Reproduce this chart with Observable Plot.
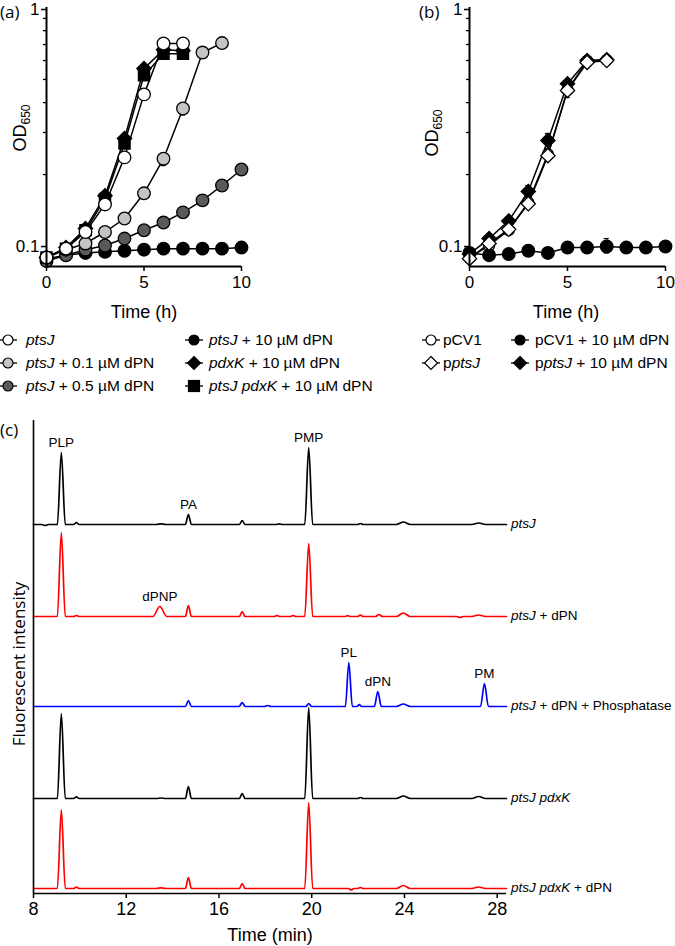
<!DOCTYPE html>
<html><head><meta charset="utf-8">
<script src="https://cdn.jsdelivr.net/npm/d3@7"></script>
<script src="https://cdn.jsdelivr.net/npm/@observablehq/plot@0.6"></script>
<style>
body{margin:0;background:#fff;}
#fig{position:relative;width:675px;height:946px;overflow:hidden;background:#fff;font-family:"Liberation Sans",Arial,sans-serif;color:#000;}
#fig svg{position:absolute;overflow:visible;background:transparent;}
.t{position:absolute;white-space:nowrap;line-height:1;}
.os{font-family:"Open Sans",sans-serif;}
</style></head><body><div id="fig"></div>
<script>
// ---------- Panel (a) data (OD650 vs time, h) ----------
const hours = [0,1,2,3,4,5,6,7,8,9,10];
const a_ptsJ        = [0.090,0.098,0.115,0.150,0.236,0.433,0.707,0.707];
const a_ptsJ_01     = [0.090,0.097,0.103,0.115,0.131,0.167,0.233,0.378,0.648,0.710];
const a_ptsJ_05     = [0.087,0.092,0.097,0.101,0.108,0.117,0.126,0.139,0.156,0.180,0.210];
const a_ptsJ_10     = [0.089,0.092,0.094,0.095,0.096,0.097,0.098,0.098,0.098,0.098,0.099];
const a_pdxK_10     = [0.090,0.099,0.119,0.163,0.283,0.555,0.666,0.660];
const a_ptsJpdxK_10 = [0.090,0.098,0.117,0.158,0.270,0.520,0.640,0.640];
const a_err = [ // t, low, high
  [7,0.665,0.745],[6,0.218,0.245],[7,0.355,0.395]
];
// ---------- Panel (b) data ----------
const b_pCV1     = [0.090,0.101,0.117,0.153,0.243,0.452,0.598,0.603];
const b_pCV1_10  = [0.094,0.092,0.093,0.096,0.094,0.099,0.099,0.100,0.099,0.099,0.100];
const b_pptsJ    = [0.089,0.103,0.118,0.151,0.240,0.450,0.589,0.600];
const b_pptsJ_10 = [0.093,0.108,0.128,0.170,0.278,0.480,0.600,0.605];
const b_err = [
  [3,0.160,0.180],[4,0.257,0.297],[5,0.420,0.480],[6,0.094,0.100],[7,0.094,0.108]
];
const yTickTop = [1];
const yTickBottom = [0.1];
const yTicksMinor = [0.2,0.3,0.4,0.5,0.6,0.7,0.8,0.9];
const xTicksH = [0,5,10];

// ---------- Panel (c) data: chromatogram peaks [time(min), height, half-width, label] ----------
const c_names  = ["<i>ptsJ</i>","<i>ptsJ</i> + dPN","<i>ptsJ</i> + dPN + Phosphatase","<i>ptsJ pdxK</i>","<i>ptsJ pdxK</i> + dPN"];
const c_colors = ["#000000","#ff0000","#0000ff","#000000","#ff0000"];
const c_offset = [369, 277, 187, 95, 5];
const c_peaks = [
  [[8.5,-1,0.15],[9.2,72,0.17,"PLP"],[9.85,2,0.12],[13.5,0.6,0.2],[14.68,10,0.13,"PA"],[17.0,4,0.12],[18.6,0.6,0.15],[19.87,77,0.17,"PMP"],[22.1,1,0.12],[23.95,2.5,0.3],[27.2,1.5,0.3]],
  [[9.2,84,0.17],[9.85,1,0.12],[13.45,10,0.3,"dPNP"],[14.68,11,0.13],[17.0,5,0.12],[18.5,1,0.12],[19.2,1,0.12],[19.87,73,0.17],[21.55,0.8,0.1],[22.1,1.5,0.12],[22.9,2,0.15],[23.95,3.5,0.3],[26.4,-1,0.15],[27.2,1.5,0.3]],
  [[14.68,6,0.13],[17.0,4,0.13],[18.1,1,0.15],[19.87,3,0.12],[21.6,44,0.15,"PL"],[22.05,2,0.1],[22.85,15,0.15,"dPN"],[23.95,2.5,0.3],[27.45,23,0.17,"PM"]],
  [[9.2,85,0.17],[9.85,1.7,0.12],[13.5,0.5,0.2],[14.68,12,0.13],[17.0,5,0.12],[19.87,91,0.17],[22.1,1,0.12],[23.95,2.5,0.3],[27.2,2,0.3]],
  [[9.2,79,0.17],[9.85,1.5,0.12],[13.5,0.6,0.2],[14.68,11,0.13],[17.0,5,0.12],[19.87,86,0.17],[21.7,-1.5,0.12],[22.1,1,0.12],[23.95,3,0.3],[27.2,1.5,0.3]]
];
const c_xTicks = [8,12,16,20,24,28];
const c_tStart = 8, c_tEnd = 28.4;

// ---------- helpers ----------
const fig = document.getElementById("fig");
function put(el, left, top){ el.style.left = left+"px"; el.style.top = top+"px"; fig.appendChild(el); return el; }
function text(html, left, top, size, cls="", extra=""){
  const d = document.createElement("div");
  d.className = "t " + cls; d.innerHTML = html;
  d.style.fontSize = size+"px";
  if (extra) d.style.cssText += extra;
  return put(d, left, top);
}
const Y_MIN = 0.0825;
function growthPlot(series, errs, {width, marginLeft, marginRight}){
  const marks = [];
  for (const s of series){
    const rows = s.vals.map((v,i)=>({t:hours[i], v}));
    marks.push(Plot.line(rows,{x:"t",y:"v",stroke:"#000",strokeWidth:1.5}));
  }
  const e = errs.map(([t,lo,hi])=>({t,lo,hi}));
  marks.push(Plot.ruleX(e,{x:"t",y1:"lo",y2:"hi",stroke:"#000",strokeWidth:1.2}));
  marks.push(Plot.ruleY(e,{y:"lo",x1:d=>d.t-0.13,x2:d=>d.t+0.13,stroke:"#000",strokeWidth:1.2}));
  marks.push(Plot.ruleY(e,{y:"hi",x1:d=>d.t-0.13,x2:d=>d.t+0.13,stroke:"#000",strokeWidth:1.2}));
  for (const s of series){
    const rows = s.vals.map((v,i)=>({t:hours[i], v}));
    marks.push(Plot.dot(rows,{x:"t",y:"v",symbol:s.sym,r:s.r||6.3,fill:s.fill,stroke:"#000",strokeWidth:1.3}));
  }
  marks.push(Plot.ruleX([0],{stroke:"#000",strokeWidth:2}));
  marks.push(Plot.ruleY([Y_MIN],{x1:0,x2:10,stroke:"#000",strokeWidth:2}));
  marks.push(Plot.axisY(yTickTop,{tickSize:5,tickPadding:2,tickFormat:()=>"1",dy:2,fontSize:17,strokeWidth:1.5,label:null}));
  marks.push(Plot.axisY(yTickBottom,{tickSize:5,tickPadding:2,tickFormat:()=>"0.1",fontSize:17,strokeWidth:1.5,label:null}));
  marks.push(Plot.axisY(yTicksMinor,{tickSize:3,tickFormat:()=> "",strokeWidth:1.3,label:null}));
  marks.push(Plot.axisX(xTicksH,{tickSize:5,tickPadding:4,fontSize:17,strokeWidth:1.5,label:null}));
  return Plot.plot({
    width, height:300, marginTop:7, marginBottom:34, marginLeft, marginRight,
    x:{domain:[0,10]}, y:{type:"log", domain:[Y_MIN,1]},
    style:{fontFamily:"Liberation Sans, Arial, sans-serif", fontSize:"17px", color:"#000", background:"transparent"},
    marks
  });
}

// ---------- Panel (a) ----------
const serA = [
  {vals:a_ptsJ_10, fill:"#000000", sym:"circle"},
  {vals:a_ptsJ_05, fill:"#5a5a5a", sym:"circle"},
  {vals:a_ptsJ_01, fill:"#c4c4c4", sym:"circle"},
  {vals:a_pdxK_10, fill:"#000000", sym:"diamond2", r:6.4},
  {vals:a_ptsJpdxK_10, fill:"#000000", sym:"square", r:6.3},
  {vals:a_ptsJ, fill:"#ffffff", sym:"circle"}
];
put(growthPlot(serA, a_err, {width:255, marginLeft:46, marginRight:14}), 0, 0);

// ---------- Panel (b) ----------
const serB = [
  {vals:b_pCV1, fill:"#ffffff", sym:"circle", r:5.5},
  {vals:b_pCV1_10, fill:"#000000", sym:"circle"},
  {vals:b_pptsJ_10, fill:"#000000", sym:"diamond2", r:6.4},
  {vals:b_pptsJ, fill:"#ffffff", sym:"diamond2", r:6.4}
];
put(growthPlot(serB, b_err, {width:292, marginLeft:89, marginRight:7}), 380, 0);

// labels (a), (b)
text("(a)", 0, 3, 17, "os");
text("(b)", 419, 3, 17, "os");
for (const [cx,cy] of [[21,128],[433,133]]){
  const d = text("OD<sub style='font-size:12px;vertical-align:-4px'>650</sub>", 0, 0, 18, "",
    "transform:translate(-50%,-50%) rotate(-90deg);");
  d.style.left = cx+"px"; d.style.top = cy+"px";
}
text("Time (h)", 144, 312, 18, "", "transform:translate(-50%,-50%);");
text("Time (h)", 566, 312, 18, "", "transform:translate(-50%,-50%);");

// ---------- legends ----------
function sym(kind, fill){
  let s = `<svg width="20" height="14" style="position:static;overflow:visible"><line x1="1" x2="19" y1="7" y2="7" stroke="#000" stroke-width="1.3"/>`;
  if (kind==="circle") s += `<circle cx="10" cy="7" r="5" fill="${fill}" stroke="#000" stroke-width="1.2"/>`;
  if (kind==="diamond") s += `<polygon points="10,0.5 16.5,7 10,13.5 3.5,7" fill="${fill}" stroke="#000" stroke-width="1.2"/>`;
  if (kind==="square") s += `<rect x="4.5" y="1.5" width="11" height="11" fill="${fill}" stroke="#000" stroke-width="1.2"/>`;
  return s + `</svg>`;
}
const legRows = [340, 363, 386];
const legend = [
  [8,26,0,"circle","#fff","<i>ptsJ</i>"],
  [8,26,1,"circle","#c4c4c4","<i>ptsJ</i> + 0.1 µM dPN"],
  [8,26,2,"circle","#5a5a5a","<i>ptsJ</i> + 0.5 µM dPN"],
  [194,209,0,"circle","#000","<i>ptsJ</i> + 10 µM dPN"],
  [194,209,1,"diamond","#000","<i>pdxK</i> + 10 µM dPN"],
  [194,209,2,"square","#000","<i>ptsJ pdxK</i> + 10 µM dPN"],
  [431,443,0,"circle","#fff","pCV1"],
  [431,443,1,"diamond","#fff","p<i>ptsJ</i>"],
  [520,535,0,"circle","#000","pCV1 + 10 µM dPN"],
  [520,535,1,"diamond","#000","p<i>ptsJ</i> + 10 µM dPN"]
];
for (const [sx,tx,row,kind,fill,label] of legend){
  const y = legRows[row];
  const s = document.createElement("div"); s.className="t"; s.innerHTML = sym(kind,fill);
  s.style.cssText += "transform:translate(-50%,-50%);width:20px;height:14px;";
  put(s, sx, y);
  text(label, tx, y, 15.5, "", "transform:translateY(-50%);");
}

// ---------- Panel (c) ----------
const cMarks = [];
c_peaks.forEach((peaks, k)=>{
  const pts = [{t:c_tStart, y:c_offset[k]}];
  for (const [t,h,w] of peaks){
    pts.push({t:t-w, y:c_offset[k]}, {t, y:c_offset[k]+h}, {t:t+w, y:c_offset[k]});
  }
  pts.push({t:c_tEnd, y:c_offset[k]});
  cMarks.push(Plot.line(pts,{x:"t",y:"y",stroke:c_colors[k],strokeWidth:1.7,curve:"monotone-x"}));
  const labs = peaks.filter(p=>p[3]).map(([t,h,w,l])=>({t, y:c_offset[k]+h, l}));
  cMarks.push(Plot.text(labs,{x:"t",y:"y",text:"l",dy:-10,fontSize:13.5,fill:"#000"}));
});
cMarks.push(Plot.ruleX([c_tStart],{stroke:"#000",strokeWidth:1.6}));
cMarks.push(Plot.ruleY([0],{x1:c_tStart,x2:c_tEnd,stroke:"#000",strokeWidth:1.6}));
cMarks.push(Plot.axisX(c_xTicks,{tickSize:5,tickPadding:4,fontSize:18,strokeWidth:1.5,label:null}));
const cTop = 400;
const chartC = Plot.plot({
  width:675, height:546, marginTop:20, marginBottom:53, marginLeft:33, marginRight:169,
  x:{domain:[c_tStart,c_tEnd]}, y:{domain:[0,473], axis:null},
  style:{fontFamily:"Liberation Sans, Arial, sans-serif", fontSize:"18px", color:"#000", background:"transparent"},
  marks:cMarks
});
put(chartC, 0, cTop);
const ys = chartC.scale("y"), xs = chartC.scale("x");
c_names.forEach((n,k)=>{
  text(n, xs.apply(c_tEnd)+5, cTop + ys.apply(c_offset[k]), 13.5, "", "transform:translateY(-50%);");
});
text("(c)", 0, 421, 17, "os");
text("Fluorescent intensity", 18, 664, 17, "os", "transform:translate(-50%,-50%) rotate(-90deg);");
text("Time (min)", 270, 935, 18, "", "transform:translate(-50%,-50%);");
</script></body></html>
